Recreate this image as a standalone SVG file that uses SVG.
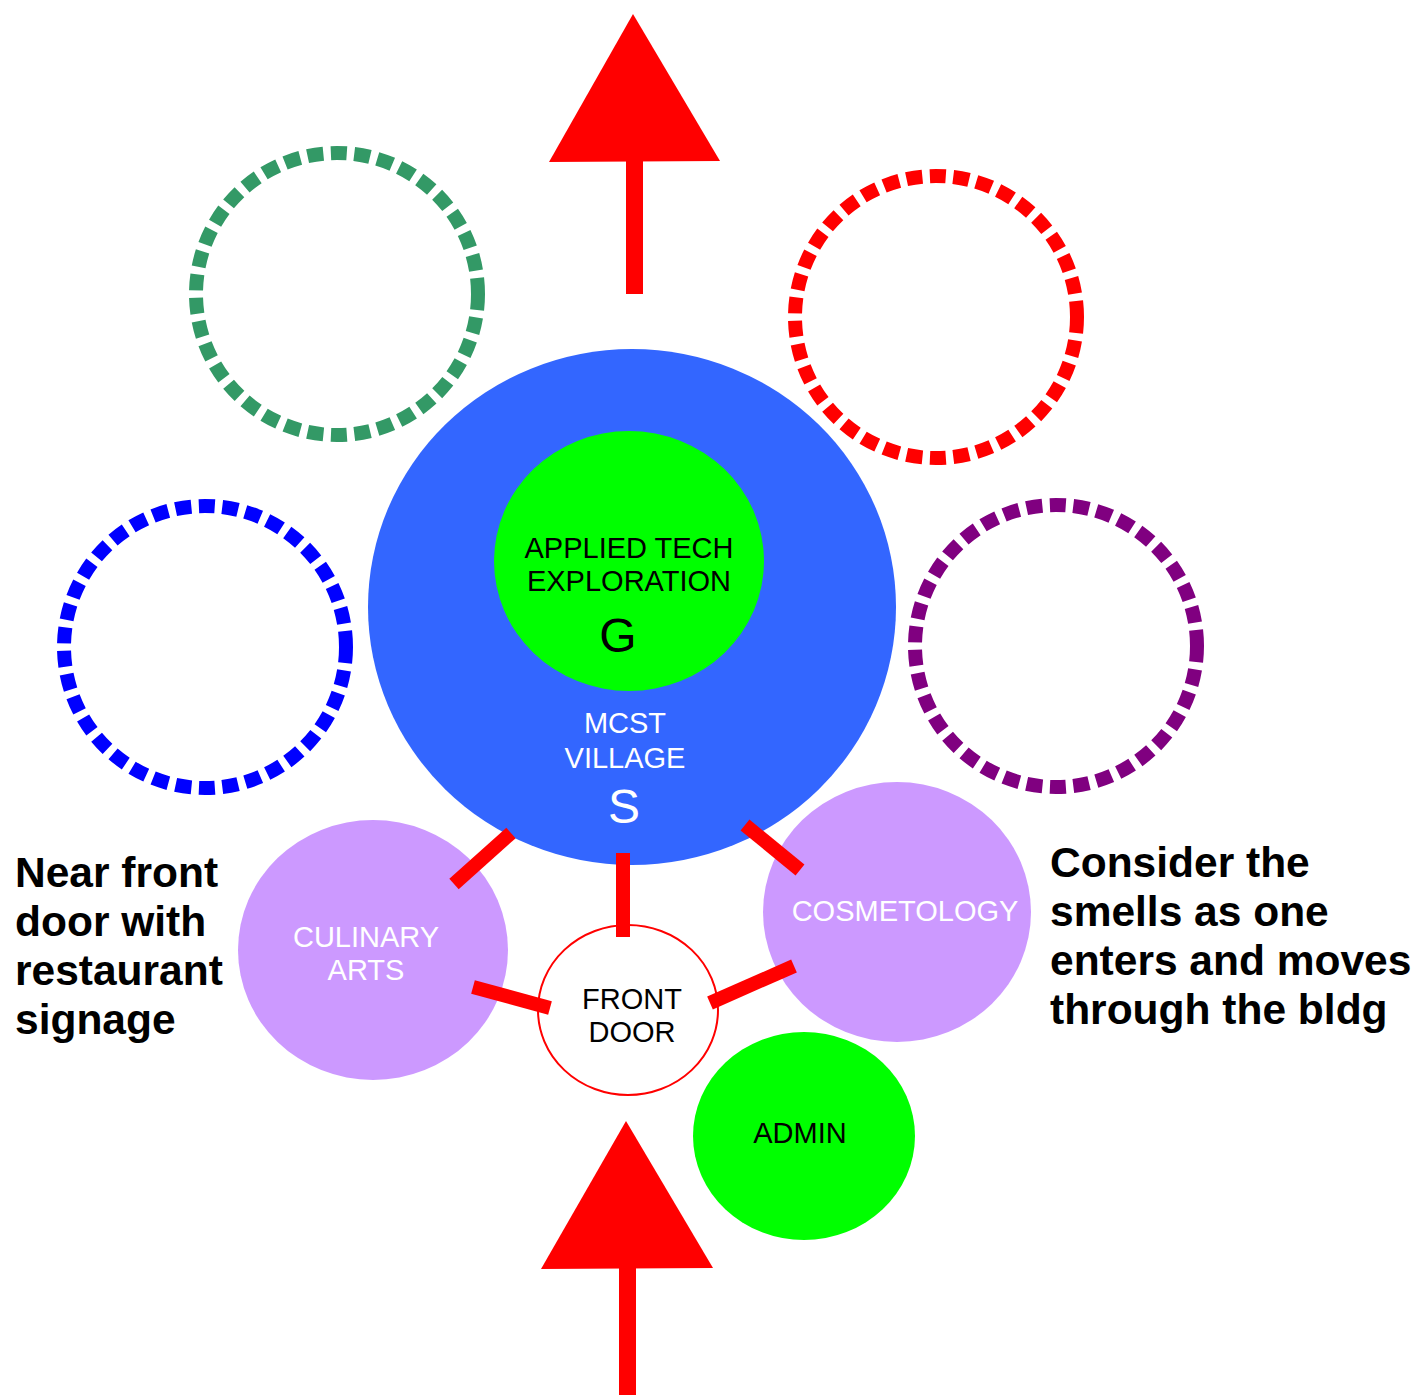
<svg xmlns="http://www.w3.org/2000/svg" width="1416" height="1395" viewBox="0 0 1416 1395">
<style>
.dash{fill:none;stroke-width:14;stroke-dasharray:16 7.5}
.lbl{font-family:"Liberation Sans",Arial,sans-serif;font-size:29px;text-anchor:middle}
.big{font-family:"Liberation Sans",Arial,sans-serif;font-size:48px;text-anchor:middle}
.note{font-family:"Liberation Sans",Arial,sans-serif;font-size:42.5px;font-weight:bold;fill:#000}
.conn{stroke:#ff0000;stroke-width:14;fill:none}
</style>
<rect width="1416" height="1395" fill="#ffffff"/>
<g id="arrow-top"><polygon points="633,14 549,162 720,161" fill="#ff0000"/><rect x="626" y="160" width="17" height="134" fill="#ff0000"/></g>
<g id="arrow-bottom"><polygon points="626,1121 541,1269 713,1268" fill="#ff0000"/><rect x="619" y="1266" width="17" height="129" fill="#ff0000"/></g>
<g id="dashed-green"><circle cx="337" cy="294" r="141" class="dash" stroke="#339966"/></g>
<g id="dashed-red"><circle cx="936" cy="317" r="141" class="dash" stroke="#ff0000"/></g>
<g id="dashed-blue"><circle cx="205" cy="647" r="141" class="dash" stroke="#0000ff"/></g>
<g id="dashed-purple"><circle cx="1056" cy="646" r="141" class="dash" stroke="#800080"/></g>
<g id="mcst-village">
<ellipse cx="632" cy="607" rx="264" ry="258" fill="#3366ff"/>
<text class="lbl" x="625" y="733" fill="#ffffff">MCST</text>
<text class="lbl" x="625" y="768" fill="#ffffff">VILLAGE</text>
<text class="big" x="624" y="823" fill="#ffffff">S</text>
</g>
<g id="applied-tech">
<ellipse cx="629" cy="561" rx="135" ry="130" fill="#00ff00"/>
<text class="lbl" x="629" y="558" fill="#000000">APPLIED TECH</text>
<text class="lbl" x="629" y="591" fill="#000000">EXPLORATION</text>
<text class="big" x="618" y="652" fill="#000000">G</text>
</g>
<g id="culinary-arts">
<ellipse cx="373" cy="950" rx="135" ry="130" fill="#cc99ff"/>
<text class="lbl" x="366" y="947" fill="#ffffff">CULINARY</text>
<text class="lbl" x="366" y="980" fill="#ffffff">ARTS</text>
</g>
<g id="cosmetology">
<ellipse cx="897" cy="912" rx="134" ry="130" fill="#cc99ff"/>
<text class="lbl" x="905" y="921" fill="#ffffff">COSMETOLOGY</text>
</g>
<g id="admin">
<ellipse cx="804" cy="1136" rx="111" ry="104" fill="#00ff00"/>
<text class="lbl" x="800" y="1143" fill="#000000">ADMIN</text>
</g>
<g id="front-door">
<ellipse cx="628" cy="1010" rx="90" ry="85" fill="#ffffff" stroke="#ff0000" stroke-width="2"/>
<text class="lbl" x="632" y="1009" fill="#000000">FRONT</text>
<text class="lbl" x="632" y="1042" fill="#000000">DOOR</text>
</g>
<g id="connectors">
<line class="conn" x1="511" y1="833" x2="454" y2="884"/>
<line class="conn" x1="623" y1="853" x2="623" y2="937"/>
<line class="conn" x1="745" y1="825" x2="800" y2="870"/>
<line class="conn" x1="473" y1="987" x2="550" y2="1008"/>
<line class="conn" x1="710" y1="1003" x2="794" y2="966"/>
</g>
<g id="note-left">
<text class="note" x="15" y="887">Near front</text>
<text class="note" x="15" y="936">door with</text>
<text class="note" x="15" y="985">restaurant</text>
<text class="note" x="15" y="1034">signage</text>
</g>
<g id="note-right">
<text class="note" x="1050" y="877">Consider the</text>
<text class="note" x="1050" y="926">smells as one</text>
<text class="note" x="1050" y="975">enters and moves</text>
<text class="note" x="1050" y="1024">through the bldg</text>
</g>
</svg>
